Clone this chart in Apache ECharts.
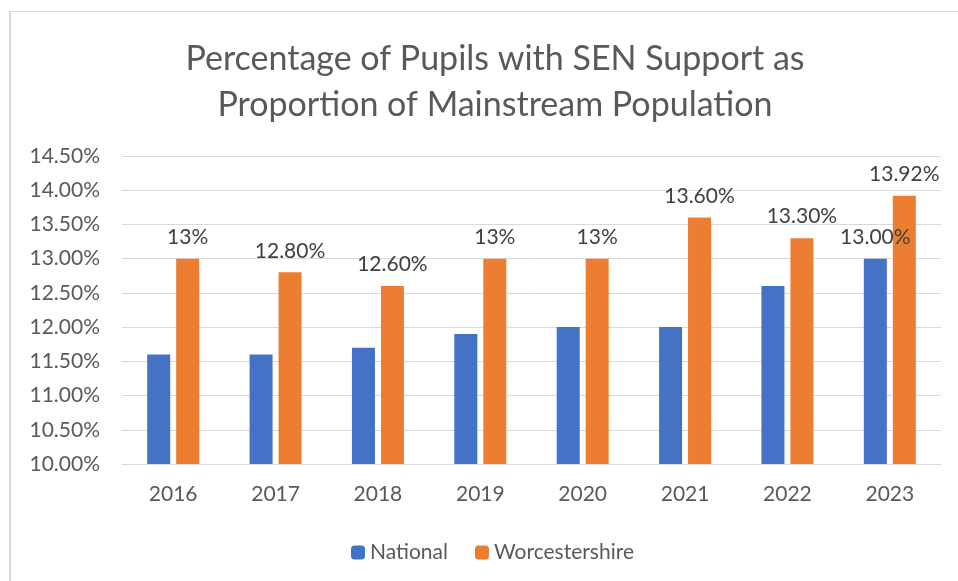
<!DOCTYPE html>
<html>
<head>
<meta charset="utf-8">
<script src="https://cdn.jsdelivr.net/npm/echarts@6/dist/echarts.min.js"></script>
<style>
  html, body { margin: 0; padding: 0; background: #fff; }
  #chart { width: 958px; height: 581px; }
</style>
</head>
<body>
<div id="chart"></div>
<script>
// data
var years = ['2016', '2017', '2018', '2019', '2020', '2021', '2022', '2023'];
var national = [11.6, 11.6, 11.7, 11.9, 12.0, 12.0, 12.6, 13.0];
var worcestershire = [13.0, 12.8, 12.6, 13.0, 13.0, 13.6, 13.3, 13.92];
// labels exactly as printed on the chart (national only labelled in 2023)
var nationalLabels = ['', '', '', '', '', '', '', '13.00%'];
var worcsLabels = ['13%', '12.80%', '12.60%', '13%', '13%', '13.60%', '13.30%', '13.92%'];

var font = 'Lato';
var grey = '#595959';

var myChart = echarts.init(document.getElementById('chart'));

var option = {
    backgroundColor: '#fff',
    animation: false,
    title: {
        text: 'Percentage of Pupils with SEN Support as\nProportion of Mainstream Population',
        left: 490,
        textAlign: 'center',
        top: 31,
        textStyle: {
            fontFamily: font,
            fontSize: 34,
            fontWeight: 'normal',
            color: grey,
            lineHeight: 46
        }
    },
    legend: {
        left: 346,
        top: 537,
        itemWidth: 14,
        itemHeight: 14,
        itemGap: 27,
        textStyle: { fontFamily: font, fontSize: 21, color: grey },
        data: ['National', 'Worcestershire']
    },
    grid: {
        left: 122,
        right: 17,
        top: 156,
        bottom: 117
    },
    xAxis: {
        type: 'category',
        data: years,
        axisLine: { lineStyle: { color: '#d9d9d9', width: 1 } },
        axisTick: { show: false },
        axisLabel: { fontFamily: font, fontSize: 21, color: grey, margin: 20 }
    },
    yAxis: {
        type: 'value',
        min: 10,
        max: 14.5,
        interval: 0.5,
        axisLine: { show: false },
        axisTick: { show: false },
        splitLine: { lineStyle: { color: '#d9d9d9', width: 1 } },
        axisLabel: {
            fontFamily: font,
            fontSize: 21,
            color: grey,
            margin: 22,
            formatter: function (v) { return v.toFixed(2) + '%'; }
        }
    },
    series: [
        {
            name: 'National',
            type: 'bar',
            data: national,
            barWidth: 23,
            barGap: '26%',
            itemStyle: { color: '#4472C4' },
            label: {
                show: true,
                position: 'top',
                distance: 11,
                fontFamily: font,
                fontSize: 21,
                color: '#404040',
                formatter: function (p) { return nationalLabels[p.dataIndex]; }
            }
        },
        {
            name: 'Worcestershire',
            type: 'bar',
            data: worcestershire,
            barWidth: 23,
            itemStyle: { color: '#ED7D31' },
            label: {
                show: true,
                position: 'top',
                distance: 11,
                fontFamily: font,
                fontSize: 21,
                color: '#404040',
                formatter: function (p) { return worcsLabels[p.dataIndex]; }
            }
        }
    ],
    graphic: [
        { type: 'line', shape: { x1: 10, y1: 11.5, x2: 958, y2: 11.5 }, style: { stroke: '#d9d9d9', lineWidth: 1 } },
        { type: 'line', shape: { x1: 10, y1: 11, x2: 10, y2: 581 }, style: { stroke: '#d9d9d9', lineWidth: 2 } }
    ]
};

myChart.setOption(option);
</script>
</body>
</html>
